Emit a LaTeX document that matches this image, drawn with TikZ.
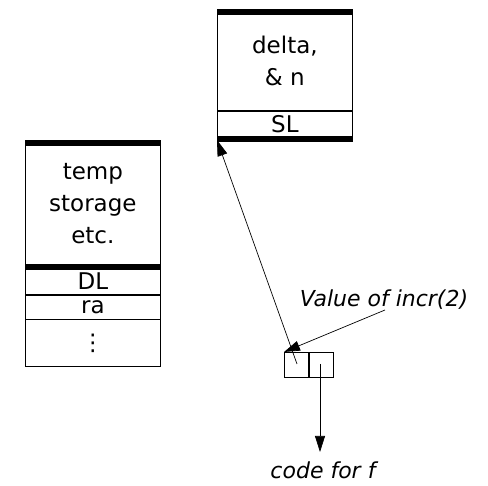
\documentclass[tikz,border=0pt]{standalone}
\usepackage{fontspec}
\setmainfont{DejaVu Sans}
\usetikzlibrary{arrows.meta}
\begin{document}
\begin{tikzpicture}[x=1pt,y=-1pt,
  cell/.style={draw,line width=0.8pt,anchor=north west,inner sep=0pt,align=center,font=\fontsize{23}{32}\selectfont},
  bar/.style={line width=6pt},
  ptr/.style={line width=0.7pt,-{Triangle[length=16pt,width=10pt]}},
  lbl/.style={font=\fontsize{22}{26}\selectfont\itshape,inner sep=0pt}]
\useasboundingbox (0,0) rectangle (488,486);
% left frame
\node[cell,minimum width=135pt,minimum height=126pt] (tmp) at (25,140) {temp\\storage\\etc.};
\node[cell,minimum width=135pt,minimum height=27pt] (dl) at (tmp.south west) {DL};
\node[cell,minimum width=135pt,minimum height=24pt] (ra) at (dl.south west) {ra};
\node[cell,minimum width=135pt,minimum height=47pt] (dots) at (ra.south west) {⋮};
\draw[bar] ([yshift=-3pt]tmp.north west) -- ([yshift=-3pt]tmp.north east);
\draw[bar] ([yshift=0pt]tmp.south west) -- ([yshift=0pt]tmp.south east);
% right frame
\node[cell,minimum width=135pt,minimum height=99pt] (delta) at (217,11) {delta,\\\& n};
\node[cell,minimum width=135pt,minimum height=26pt] (sl) at (delta.south west) {SL};
\draw[bar] ([yshift=-1pt]delta.north west) -- ([yshift=-1pt]delta.north east);
\draw[bar] ([yshift=-1pt]sl.south west) -- ([yshift=-1pt]sl.south east);
% closure pair
\node[cell,minimum width=24pt,minimum height=25pt] (c1) at (284,352) {};
\node[cell,minimum width=24pt,minimum height=25pt] (c2) at (c1.north east) {};
% labels
\node[lbl] (val) at (384,300) {Value of incr(2)};
\node[lbl] (code) at (323,470) {code for f};
\coordinate (p1) at (297,364);
\coordinate (p2) at (320,364);
\coordinate (t1) at (217,140);
\coordinate (s2) at (385,310);
\coordinate (t3) at (320,452);
\draw[ptr] (p1) -- (t1);
\draw[ptr] (s2) -- (c1.north west);
\draw[ptr] (p2) -- (t3);
\end{tikzpicture}
\end{document}
